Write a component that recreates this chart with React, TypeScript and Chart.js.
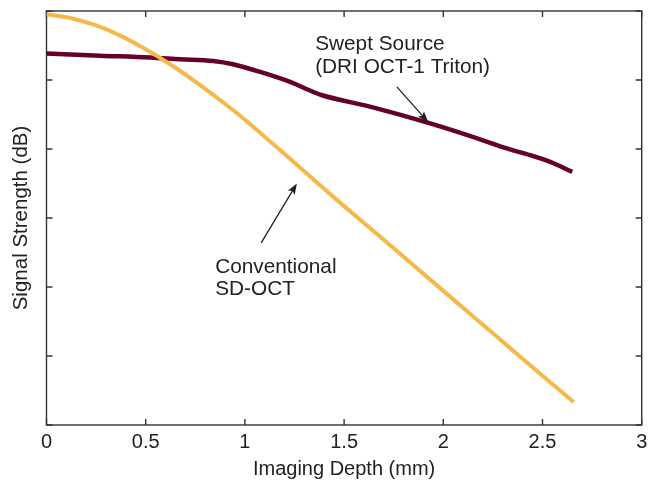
import React, { useEffect, useRef } from "react";
import { Chart, registerables } from "chart.js";

Chart.register(...registerables);

// Imaging depth (mm) and relative signal strength (arbitrary dB units, 0..6 axis)
const sdDepth = [0, 0.125, 0.25, 0.375, 0.5, 0.625, 0.75, 0.875, 1.0, 1.25, 1.5, 1.75, 2.0, 2.25, 2.5, 2.657];
const sdSignal = [5.952, 5.896, 5.79, 5.64, 5.445, 5.225, 4.978, 4.71, 4.425, 3.8, 3.172, 2.561, 1.944, 1.329, 0.714, 0.333];

const ssDepth = [0, 0.27, 0.522, 0.673, 0.84, 0.94, 1.077, 1.228, 1.344, 1.389, 1.65, 1.934, 2.236, 2.302, 2.438, 2.539, 2.65];
const ssSignal = [5.383, 5.352, 5.325, 5.3, 5.275, 5.228, 5.117, 4.972, 4.827, 4.779, 4.6, 4.37, 4.09, 4.022, 3.91, 3.813, 3.668];

const xTicks = [0, 0.5, 1, 1.5, 2, 2.5, 3];
const yTicks = [0, 1, 2, 3, 4, 5, 6];

const xTitle = "Imaging Depth (mm)";
const yTitle = "Signal Strength (dB)";

// annotations in data coordinates
const ssLabel = ["Swept Source", "(DRI OCT-1 Triton)"];
const ssLabelAt = { x: 1.354, y: 5.43 };
const ssArrow = { x0: 1.766, y0: 4.9, x1: 1.924, y1: 4.39 };
const sdLabel = ["Conventional", "SD-OCT"];
const sdLabelAt = { x: 0.85, y: 2.206 };
const sdArrow = { x0: 1.082, y0: 2.64, x1: 1.262, y1: 3.5 };

const FONT = '"Liberation Sans", Arial, Helvetica, sans-serif';
const TEXT = "#222";

const framePlugin = {
  id: "frameTicks",
  beforeDatasetsDraw(chart: any) {
    const { ctx, chartArea: a, scales } = chart;
    const xs = scales.x, ys = scales.y;
    ctx.save();
    ctx.strokeStyle = "#333";
    ctx.lineWidth = 1.4;
    ctx.strokeRect(a.left, a.top, a.right - a.left, a.bottom - a.top);
    const tl = 6;
    ctx.beginPath();
    xTicks.forEach((v) => {
      const px = xs.getPixelForValue(v);
      ctx.moveTo(px, a.bottom);
      ctx.lineTo(px, a.bottom - tl);
      ctx.moveTo(px, a.top);
      ctx.lineTo(px, a.top + tl);
    });
    yTicks.forEach((v) => {
      const py = ys.getPixelForValue(v);
      ctx.moveTo(a.left, py);
      ctx.lineTo(a.left + tl, py);
      ctx.moveTo(a.right, py);
      ctx.lineTo(a.right - tl, py);
    });
    ctx.stroke();
    ctx.restore();
  },
  afterDatasetsDraw(chart: any) {
    const { ctx, scales } = chart;
    const xs = scales.x, ys = scales.y;
    const arrow = (ar: any) => {
      const x0 = xs.getPixelForValue(ar.x0), y0 = ys.getPixelForValue(ar.y0);
      const x1 = xs.getPixelForValue(ar.x1), y1 = ys.getPixelForValue(ar.y1);
      const ang = Math.atan2(y1 - y0, x1 - x0);
      const hl = 11, hw = 4;
      const bx = x1 - hl * Math.cos(ang), by = y1 - hl * Math.sin(ang);
      ctx.save();
      ctx.strokeStyle = TEXT;
      ctx.fillStyle = TEXT;
      ctx.lineWidth = 1.3;
      ctx.beginPath();
      ctx.moveTo(x0, y0);
      ctx.lineTo(bx + 3 * Math.cos(ang), by + 3 * Math.sin(ang));
      ctx.stroke();
      ctx.beginPath();
      ctx.moveTo(x1, y1);
      ctx.lineTo(bx - hw * Math.sin(ang), by + hw * Math.cos(ang));
      ctx.lineTo(bx + 2.5 * Math.cos(ang), by + 2.5 * Math.sin(ang));
      ctx.lineTo(bx + hw * Math.sin(ang), by - hw * Math.cos(ang));
      ctx.closePath();
      ctx.fill();
      ctx.restore();
    };
    arrow(ssArrow);
    arrow(sdArrow);
    const label = (lines: string[], at: any) => {
      const x = xs.getPixelForValue(at.x), y = ys.getPixelForValue(at.y);
      ctx.save();
      ctx.fillStyle = TEXT;
      ctx.font = `20.8px ${FONT}`;
      ctx.textAlign = "left";
      ctx.textBaseline = "alphabetic";
      lines.forEach((t, i) => ctx.fillText(t, x, y + i * 22.5));
      ctx.restore();
    };
    label(ssLabel, ssLabelAt);
    label(sdLabel, sdLabelAt);
  },
};

export default function App() {
  const ref = useRef<HTMLCanvasElement | null>(null);
  useEffect(() => {
    if (!ref.current) return;
    const chart = new Chart(ref.current, {
      type: "line",
      data: {
        datasets: [
          {
            label: "Conventional SD-OCT",
            data: sdDepth.map((x, i) => ({ x, y: sdSignal[i] })),
            borderColor: "#F7B84B",
            borderWidth: 4,
            pointRadius: 0,
            cubicInterpolationMode: "monotone",
            fill: false,
          },
          {
            label: "Swept Source",
            data: ssDepth.map((x, i) => ({ x, y: ssSignal[i] })),
            borderColor: "#64002A",
            borderWidth: 4.5,
            pointRadius: 0,
            cubicInterpolationMode: "monotone",
            fill: false,
          },
        ],
      },
      options: {
        responsive: true,
        maintainAspectRatio: false,
        animation: false,
        layout: { padding: { top: 11, right: 8.3, left: 0, bottom: 0 } },
        plugins: { legend: { display: false }, tooltip: { enabled: false } },
        font: { family: FONT, size: 20 },
        scales: {
          x: {
            type: "linear",
            min: 0,
            max: 3,
            grid: { display: false, drawTicks: false },
            border: { display: false },
            afterFit: (s: any) => { s.height = 64; s.paddingLeft = 0; s.paddingRight = 0; },
            afterBuildTicks: (s: any) => { s.ticks = xTicks.map((v) => ({ value: v })); },
            ticks: {
              padding: 5,
              color: TEXT,
              font: { family: FONT, size: 20 },
              maxRotation: 0,
              autoSkip: false,
              callback: (v: any) => String(v),
            },
            title: {
              display: true,
              text: xTitle,
              color: TEXT,
              font: { family: FONT, size: 20 },
              padding: { top: 0, bottom: 8 },
            },
          },
          y: {
            type: "linear",
            min: 0,
            max: 6,
            grid: { display: false, drawTicks: false },
            border: { display: false },
            afterFit: (s: any) => { s.width = 46.5; s.paddingTop = 0; s.paddingBottom = 0; },
            ticks: { display: false, stepSize: 1 },
            title: {
              display: true,
              text: yTitle,
              color: TEXT,
              font: { family: FONT, size: 20.5 },
              padding: { top: 9, bottom: 0 },
            },
          },
        },
      } as any,
      plugins: [framePlugin],
    });
    return () => chart.destroy();
  }, []);
  return (
    <div style={{ position: "fixed", left: 0, top: 0, width: 650, height: 489, background: "#fff" }}>
      <canvas ref={ref} />
    </div>
  );
}
